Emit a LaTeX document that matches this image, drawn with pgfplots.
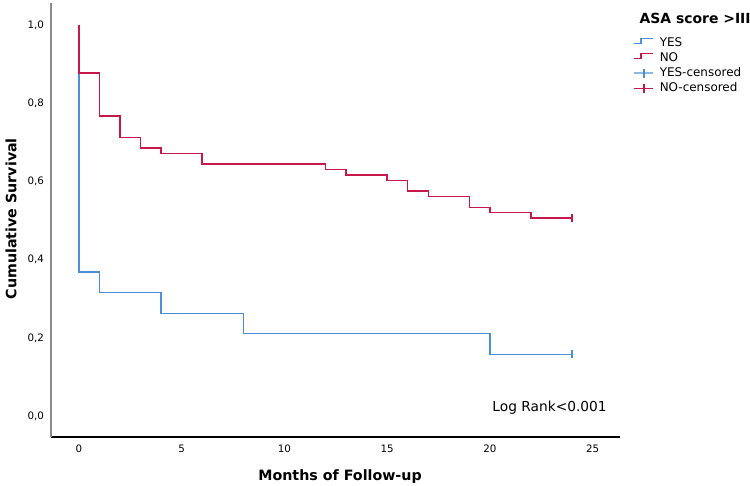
\documentclass[border=0pt]{standalone}
\usepackage{fontspec}
\setmainfont{DejaVu Sans}
\usepackage{pgfplots}
\pgfplotsset{compat=1.18}
\definecolor{kmblue}{HTML}{4A90D9}
\definecolor{kmred}{HTML}{C8174A}
\definecolor{kmlblue}{HTML}{8DB9E3}
\begin{document}
\begin{tikzpicture}
\useasboundingbox (0,0) rectangle (750bp,486bp);
\begin{axis}[
  at={(51bp,49bp)}, anchor=south west,
  scale only axis, width=569bp, height=434bp,
  xmin=-1.36, xmax=26.33, ymin=-0.053, ymax=1.056,
  axis lines*=left,
  x axis line style={black, line width=1.2bp},
  y axis line style={black!45, line width=1.5bp},
  major tick length=0pt,
  xtick={0,5,10,15,20,25},
  ytick={0,0.2,0.4,0.6,0.8,1},
  /pgf/number format/assume math mode=true,
  yticklabel style={/pgf/number format/fixed, /pgf/number format/fixed zerofill,
    /pgf/number format/precision=1, /pgf/number format/use comma, xshift=-3.5bp},
  tick label style={font=\fontsize{10.3}{12}\selectfont},
  xticklabel style={yshift=-4.5bp},
  xlabel={Months of Follow-up},
  ylabel={Cumulative Survival},
  label style={font=\bfseries\fontsize{14.3}{17}\selectfont},
  xlabel style={at={(axis description cs:0.508,-0.092)}, anchor=center},
  ylabel style={at={(axis description cs:-0.0703,0.503)}, anchor=center},
  clip=false,
  legend cell align=left,
  legend style={draw=none, fill=none, at={(axis description cs:1.0228,0.924)}, anchor=north west,
    font=\fontsize{12}{14}\selectfont, inner sep=0pt, row sep=1bp, column sep=5bp,
    nodes={text height=9bp, text depth=3bp, inner sep=1bp}},
]
\addlegendimage{legend image code/.code={\draw[kmblue, line width=1.3bp] (0bp,0bp) -- (7bp,0bp) -- (7bp,5bp) -- (19bp,5bp);}}
\addlegendentry{YES}
\addlegendimage{legend image code/.code={\draw[kmred, line width=1.3bp] (0bp,0bp) -- (7bp,0bp) -- (7bp,5bp) -- (19bp,5bp);}}
\addlegendentry{NO}
\addlegendimage{legend image code/.code={\draw[kmlblue, line width=1.6bp] (0bp,0bp) -- (19bp,0bp); \draw[kmblue, line width=1.3bp] (10bp,-4.5bp) -- (10bp,4.5bp);}}
\addlegendentry{YES-censored}
\addlegendimage{legend image code/.code={\draw[kmred, line width=1.3bp] (0bp,0bp) -- (19bp,0bp) (10bp,-4.5bp) -- (10bp,4.5bp);}}
\addlegendentry{NO-censored}

% YES group (ASA score > III)
\addplot[const plot, kmblue, line width=1.5bp, forget plot] coordinates {
 (0,1) (0,0.368) (1,0.316) (4,0.263) (8,0.211) (20,0.158) (24,0.158)
};
% NO group
\addplot[const plot, kmred, line width=1.5bp, forget plot] coordinates {
 (0,1) (0,0.877) (1,0.767) (2,0.712) (3,0.685) (4,0.671) (6,0.644)
 (12,0.630) (13,0.616) (15,0.603) (16,0.575) (17,0.562) (19,0.534)
 (20,0.521) (22,0.507) (24,0.507)
};
% censored
\addplot[only marks, mark=|, mark size=4bp, kmblue, line width=1.3bp, forget plot] coordinates {(24,0.158)};
\addplot[only marks, mark=|, mark size=4bp, kmred, line width=1.3bp, forget plot] coordinates {(24,0.507)};

\node[anchor=east, font=\fontsize{13.8}{16}\selectfont] at (axis cs:25.85,0.022) {Log Rank<0.001};
\node[anchor=west, font=\bfseries\fontsize{14}{17}\selectfont] at (axis description cs:1.0281,0.9654) {ASA score >III};
\end{axis}
\end{tikzpicture}
\end{document}
